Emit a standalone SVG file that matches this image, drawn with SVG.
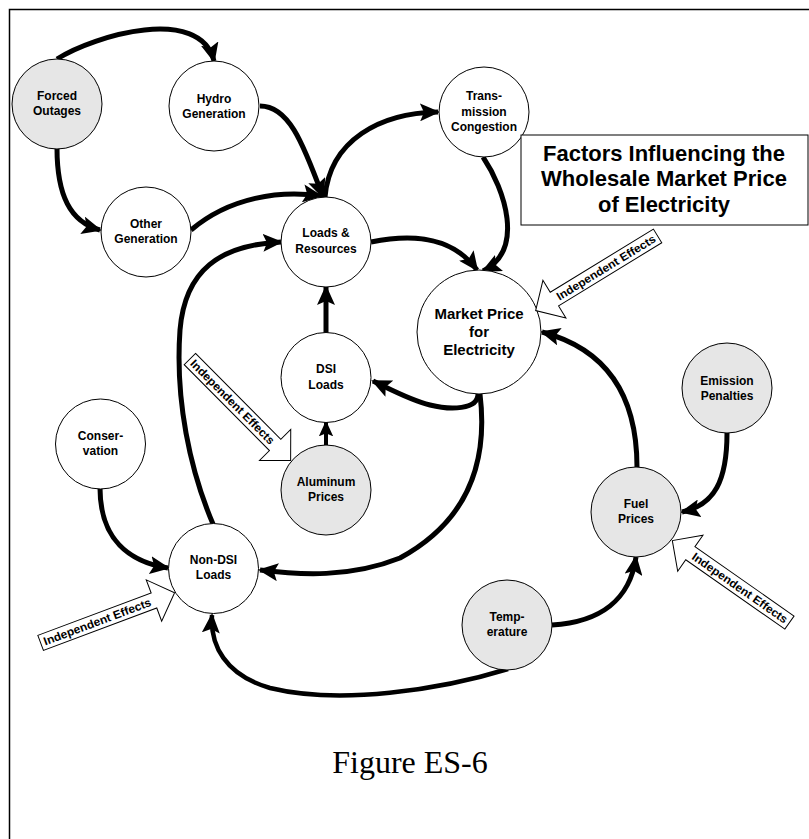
<svg xmlns="http://www.w3.org/2000/svg" width="809" height="839" viewBox="0 0 809 839">
<style>
.n{fill:#fff;stroke:#000;stroke-width:1}
.g{fill:#e6e6e6;stroke:#000;stroke-width:1}
.t{font-family:"Liberation Sans",Arial,sans-serif;font-weight:bold;font-size:12px;text-anchor:middle;fill:#000}
.tm{font-family:"Liberation Sans",Arial,sans-serif;font-weight:bold;font-size:15px;text-anchor:middle;fill:#000}
.c{fill:none;stroke:#000;stroke-width:5;marker-end:url(#ah)}
.ie{fill:#fff;stroke:#000;stroke-width:1}
.iet{font-family:"Liberation Sans",Arial,sans-serif;font-weight:bold;font-size:11.5px;text-anchor:middle;fill:#000}
</style>
<defs>
<marker id="ah" viewBox="0 0 20 18" refX="18" refY="9" markerWidth="20" markerHeight="18" markerUnits="userSpaceOnUse" orient="auto"><path d="M0,0 L20,9 L0,18 L4,9 z" fill="#000"/></marker>
<marker id="ahs" viewBox="0 0 20 18" refX="18" refY="9" markerWidth="16" markerHeight="15" markerUnits="userSpaceOnUse" orient="auto"><path d="M0,0 L20,9 L0,18 L4,9 z" fill="#000"/></marker>
<polygon id="ieR" points="-60.5,-8 60.5,-8 60.5,-22 82.5,0 60.5,22 60.5,8 -60.5,8"/>
<polygon id="ieL" points="60.5,-8 -60.5,-8 -60.5,-22 -82.5,0 -60.5,22 -60.5,8 60.5,8"/>
</defs>
<rect x="9.5" y="9.5" width="900" height="900" fill="#fff" stroke="#000" stroke-width="1.5"/>

<g id="connectors">
<path class="c" d="M57,59 C95,35 200,5 214,61"/>
<path class="c" d="M57,148 C57,195 70,222 100,230"/>
<path class="c" d="M260,106 C288,106 302,140 323,197"/>
<path class="c" d="M191,230 C230,197 280,190 321,196"/>
<path class="c" d="M325,197 C330,140 380,113 438,112"/>
<path class="c" d="M483,157 C505,190 525,250 483,271"/>
<path class="c" d="M371,242 C420,232 455,240 477,270"/>
<path class="c" d="M478,394 C478,410 450,410 430,405 C410,400 392,390 373,381"/>
<path class="c" d="M480,394 C488,460 470,520 400,558 C350,578 300,575 260,570"/>
<path class="c" d="M213,524 C190,470 175,400 180,330 C185,270 220,245 281,242"/>
<path class="c" d="M326,333 L326,287"/>
<path class="c" d="M326,445 L326,422" style="stroke-width:4;marker-end:url(#ahs)"/>
<path class="c" d="M100,488 C100,540 130,562 168,568"/>
<path class="c" d="M508,669 C440,690 340,705 270,688 C225,675 210,645 212,615" style="stroke-width:4.5"/>
<path class="c" d="M552,625 C600,622 630,600 636,557"/>
<path class="c" d="M637,467 C637,400 610,350 542,332"/>
<path class="c" d="M727,433 C727,480 715,505 682,512"/>
</g>

<g id="forced-outages"><circle class="g" cx="57" cy="104" r="45"/><text class="t" x="57" y="100">Forced</text><text class="t" x="57" y="115">Outages</text></g>
<g id="hydro-generation"><circle class="n" cx="214" cy="106" r="45"/><text class="t" x="214" y="103">Hydro</text><text class="t" x="214" y="118">Generation</text></g>
<g id="other-generation"><circle class="n" cx="146" cy="232" r="45"/><text class="t" x="146" y="228">Other</text><text class="t" x="146" y="243">Generation</text></g>
<g id="transmission-congestion"><circle class="n" cx="484" cy="112" r="45"/><text class="t" x="484" y="100">Trans-</text><text class="t" x="484" y="115.5">mission</text><text class="t" x="484" y="131">Congestion</text></g>
<g id="loads-resources"><circle class="n" cx="326" cy="242" r="45"/><text class="t" x="326" y="237">Loads &amp;</text><text class="t" x="326" y="253">Resources</text></g>
<g id="dsi-loads"><circle class="n" cx="326" cy="377.5" r="45"/><text class="t" x="326" y="373">DSI</text><text class="t" x="326" y="388.5">Loads</text></g>
<g id="aluminum-prices"><circle class="g" cx="326" cy="490" r="45"/><text class="t" x="326" y="486">Aluminum</text><text class="t" x="326" y="501">Prices</text></g>
<g id="market-price"><circle class="n" cx="479" cy="332" r="62"/><text class="tm" x="479" y="319">Market Price</text><text class="tm" x="479" y="337">for</text><text class="tm" x="479" y="355">Electricity</text></g>
<g id="conservation"><circle class="n" cx="100.5" cy="444" r="45"/><text class="t" x="100.5" y="440">Conser-</text><text class="t" x="100.5" y="455">vation</text></g>
<g id="non-dsi-loads"><circle class="n" cx="213.5" cy="568.5" r="45"/><text class="t" x="213.5" y="564">Non-DSI</text><text class="t" x="213.5" y="579">Loads</text></g>
<g id="emission-penalties"><circle class="g" cx="727" cy="388" r="45"/><text class="t" x="727" y="385">Emission</text><text class="t" x="727" y="400">Penalties</text></g>
<g id="fuel-prices"><circle class="g" cx="636" cy="512" r="45"/><text class="t" x="636" y="508">Fuel</text><text class="t" x="636" y="523">Prices</text></g>
<g id="temperature"><circle class="g" cx="507" cy="625" r="45"/><text class="t" x="507" y="621">Temp-</text><text class="t" x="507" y="636">erature</text></g>

<g id="title"><rect x="521" y="135" width="287" height="90" fill="#fff" stroke="#000" stroke-width="1"/>
<text x="664" y="161" style="font-family:'Liberation Sans',Arial,sans-serif;font-weight:bold;font-size:22px;text-anchor:middle">Factors Influencing the</text>
<text x="664" y="186" style="font-family:'Liberation Sans',Arial,sans-serif;font-weight:bold;font-size:22px;text-anchor:middle">Wholesale Market Price</text>
<text x="664" y="212" style="font-family:'Liberation Sans',Arial,sans-serif;font-weight:bold;font-size:22px;text-anchor:middle">of Electricity</text></g>

<g id="ie-market" transform="translate(606,267.5) rotate(-31.5)"><use href="#ieL" class="ie"/><text class="iet" x="0" y="4" textLength="114" lengthAdjust="spacingAndGlyphs">Independent Effects</text></g>
<g id="ie-aluminum" transform="translate(232.5,402) rotate(45.2)"><use href="#ieR" class="ie"/><text class="iet" x="0" y="4" textLength="114" lengthAdjust="spacingAndGlyphs">Independent Effects</text></g>
<g id="ie-nondsi" transform="translate(97.3,621.7) rotate(-20.5)"><use href="#ieR" class="ie"/><text class="iet" x="0" y="4" textLength="114" lengthAdjust="spacingAndGlyphs">Independent Effects</text></g>
<g id="ie-fuel" transform="translate(739.9,587.9) rotate(35)"><use href="#ieL" class="ie"/><text class="iet" x="0" y="4" textLength="114" lengthAdjust="spacingAndGlyphs">Independent Effects</text></g>

<text id="caption" x="410" y="773" style="font-family:'Liberation Serif','Times New Roman',serif;font-size:32px;text-anchor:middle">Figure ES-6</text>
</svg>
